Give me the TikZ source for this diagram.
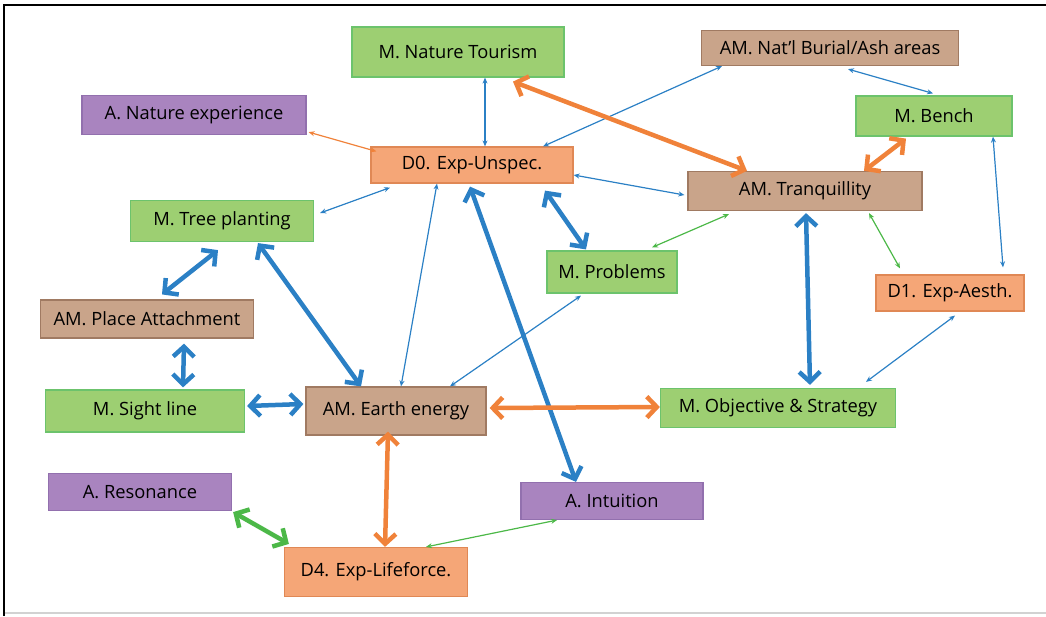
\documentclass[tikz,border=0pt]{standalone}
\usepackage{fontspec}
\setmainfont{Open Sans}
\usetikzlibrary{arrows.meta}
\definecolor{mgreen}{HTML}{9DCF72}
\definecolor{mgreenb}{HTML}{6CC36C}
\definecolor{ambrown}{HTML}{C9A48A}
\definecolor{ambrownb}{HTML}{A07A62}
\definecolor{apurple}{HTML}{A984BF}
\definecolor{apurpleb}{HTML}{9270AE}
\definecolor{dorange}{HTML}{F5A677}
\definecolor{dorangeb}{HTML}{E08855}
\definecolor{lblue}{HTML}{2B80C5}
\definecolor{lorange}{HTML}{F0823A}
\definecolor{lgreen}{HTML}{4CB848}
\begin{document}
\begin{tikzpicture}[x=1pt,y=-1pt,
     every node/.style = {inner sep=0pt, line width=1.2pt,
        font=\fontsize{18.3}{21}\selectfont},
     mbox/.style = {draw=mgreenb, fill=mgreen},
     ambox/.style = {draw=ambrownb, fill=ambrown},
     abox/.style = {draw=apurpleb, fill=apurple},
     dbox/.style = {draw=dorangeb, fill=dorange},
     thin/.style = {line width=1.2pt, {Stealth[length=6pt,width=5pt]}-{Stealth[length=6pt,width=5pt]}},
     fat/.style = {line width=4.5pt, {Straight Barb[length=10pt,width=21pt]}-{Straight Barb[length=10pt,width=21pt]}}]
     \useasboundingbox (0,0) rectangle (1046,616);
     \draw[gray!35, line width=1.5pt] (4,613) -- (1046,613);
     \draw[black, line width=2.5pt] (4,616) -- (4,5) -- (1046,5);
     % nodes
     \node[mbox, minimum width=212, minimum height=50] (tour) at (458,52) {M. Nature Tourism};
     \node[ambox, minimum width=257, minimum height=35] (ash) at (830,48) {AM. Nat'l Burial/Ash areas};
     \node[abox, minimum width=224, minimum height=39] (natexp) at (194,115) {A. Nature experience};
     \node[mbox, minimum width=156, minimum height=40] (bench) at (934,116) {M. Bench};
     \node[dbox, minimum width=202, minimum height=36] (dzero) at (472,165) {D0. Exp-Unspec.};
     \node[ambox, minimum width=234, minimum height=39] (tranq) at (805,191) {AM. Tranquillity};
     \node[mbox, minimum width=183, minimum height=41] (tree) at (222,221) {M. Tree planting};
     \node[mbox, minimum width=130, minimum height=42] (prob) at (612,272) {M. Problems};
     \node[dbox, minimum width=148, minimum height=36] (done) at (950,293) {D1. Exp-Aesth.};
     \node[ambox, minimum width=213, minimum height=38] (place) at (147,319) {AM. Place Attachment};
     \node[mbox, minimum width=199, minimum height=42] (sight) at (145,411) {M. Sight line};
     \node[ambox, minimum width=180, minimum height=48] (earth) at (396,411) {AM. Earth energy};
     \node[mbox, minimum width=235, minimum height=39] (obj) at (778,408) {M. Objective \& Strategy};
     \node[abox, minimum width=183, minimum height=37] (reso) at (140,492) {A. Resonance};
     \node[abox, minimum width=182, minimum height=37] (intu) at (612,501) {A. Intuition};
     \node[dbox, minimum width=183, minimum height=49] (dfour) at (376,572) {D4. Exp-Lifeforce.};
     % thin links
     \draw[thin, lblue] ([xshift=27]tour.south) -- ([xshift=13]dzero.north);
     \draw[thin, lblue] ([xshift=-108]ash.south) -- ([xshift=71]dzero.north);
     \draw[thin, lblue] ([xshift=18,yshift=-3]ash.south) -- ([xshift=-1,yshift=2]bench.north);
     \draw[thin, lblue] ([yshift=-10]dzero.east) -- ([xshift=-3,yshift=-4]tranq.west);
     \draw[thin, lblue] ([xshift=6,yshift=8]tree.east) -- ([xshift=-82,yshift=-4]dzero.south);
     \draw[thin, lblue] ([xshift=-35]dzero.south) -- ([xshift=5]earth.north);
     \draw[thin, lblue] ([xshift=-31,yshift=-2]prob.south) -- ([xshift=54]earth.north);
     \draw[thin, lblue] ([xshift=59]bench.south) -- ([xshift=53,yshift=7]done.north);
     \draw[thin, lblue] ([xshift=5,yshift=-4]done.south) -- ([xshift=88,yshift=6]obj.north);
     \draw[thin, lorange] ([xshift=2,yshift=3]natexp.south east) -- ([xshift=6,yshift=-5]dzero.north west);
     \draw[thin, lgreen] ([xshift=40,yshift=3]prob.north) -- ([xshift=-76,yshift=-3]tranq.south);
     \draw[thin, lgreen] ([xshift=64,yshift=-2]tranq.south) -- ([xshift=-50,yshift=6]done.north);
     \draw[thin, lgreen] ([xshift=50]dfour.north) -- ([xshift=-55]intu.south);
     % thick links
     \draw[fat, lblue] ([xshift=-4,yshift=-8]tree.south) -- ([xshift=15,yshift=5]place.north);
     \draw[fat, lblue] ([xshift=36,yshift=-1]tree.south) -- ([xshift=-35]earth.north);
     \draw[fat, lblue] ([xshift=-2,yshift=-3]dzero.south) -- ([xshift=-36]intu.north);
     \draw[fat, lblue] ([xshift=73,yshift=-7]dzero.south) -- ([xshift=-26,yshift=1]prob.north);
     \draw[fat, lblue] ([xshift=1,yshift=-2]tranq.south) -- ([xshift=32,yshift=3]obj.north);
     \draw[fat, lblue] ([xshift=37,yshift=-5]place.south) -- ([xshift=38,yshift=2]sight.north);
     \draw[fat, lblue] ([xshift=2,yshift=5]sight.east) -- ([xshift=-2,yshift=7]earth.west);
     \draw[fat, lorange] ([xshift=55,yshift=-4]tour.south) -- ([xshift=-58]tranq.north);
     \draw[fat, lorange] ([xshift=-28,yshift=-2]bench.south) -- ([xshift=59]tranq.north);
     \draw[fat, lorange] ([xshift=3,yshift=3]earth.east) -- ([yshift=1]obj.west);
     \draw[fat, lorange] ([xshift=-8,yshift=4]earth.south) -- ([xshift=9]dfour.north);
     \draw[fat, lgreen] ([xshift=1,yshift=-1]reso.south east) -- ([xshift=5,yshift=3]dfour.north west);
   \end{tikzpicture}
\end{document}
